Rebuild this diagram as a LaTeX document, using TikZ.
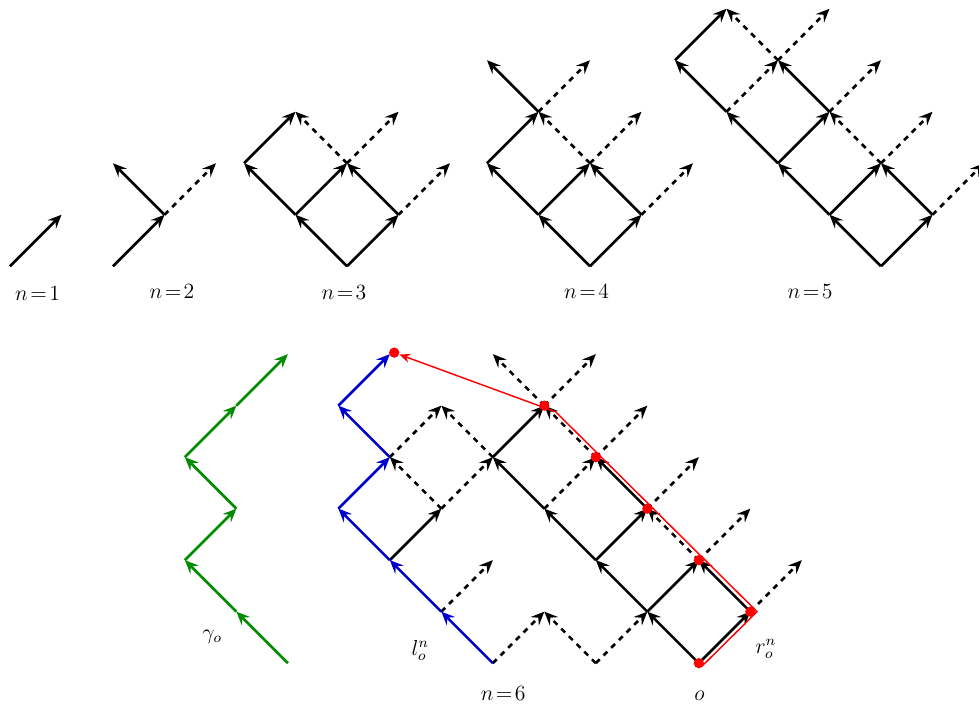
\documentclass[tikz,border=0pt]{standalone}
\usetikzlibrary{arrows.meta}
\definecolor{grn}{rgb}{0,0.55,0}
\definecolor{blu}{rgb}{0,0,0.8}
\begin{document}
\begin{tikzpicture}
    [arr/.style={-{Stealth[length=7.5pt,width=6.5pt,inset=2.8pt]},line width=1.4pt},
     dsh/.style={arr,dashed},
     dot/.style={circle,fill=red,inner sep=0pt,minimum size=0.2cm},
     lab/.style={font=\fontsize{11.6}{14}\selectfont,inner sep=0pt,anchor=base}]
    \useasboundingbox (0,0) rectangle (19.01,13.79);
    \foreach \d/\x/\y in {n1/0.194/8.62, n2/2.194/8.62, n3/4.738/8.62,
        n4/9.456/8.62, n5/13.107/8.62, n6/5.57/0.913, g/3.59/0.913}
      \foreach \c in {0,...,10}
        \foreach \r in {0,...,6}
          \coordinate (\d-\c-\r) at (\x+\c,\y+\r);
    % n=1 to n=5
    \path (n1-0-0) edge [arr] (n1-1-1);
    \path (n2-0-0) edge [arr] (n2-1-1);
    \path (n2-1-1) edge [arr] (n2-0-2) edge [dsh] (n2-2-2);
    \path (n3-2-0) edge [arr] (n3-1-1) edge [arr] (n3-3-1);
    \path (n3-1-1) edge [arr] (n3-0-2) edge [arr] (n3-2-2);
    \path (n3-3-1) edge [arr] (n3-2-2) edge [dsh] (n3-4-2);
    \path (n3-0-2) edge [arr] (n3-1-3);
    \path (n3-2-2) edge [dsh] (n3-1-3) edge [dsh] (n3-3-3);
    \path (n4-2-0) edge [arr] (n4-1-1) edge [arr] (n4-3-1);
    \path (n4-1-1) edge [arr] (n4-0-2) edge [arr] (n4-2-2);
    \path (n4-3-1) edge [arr] (n4-2-2) edge [dsh] (n4-4-2);
    \path (n4-0-2) edge [arr] (n4-1-3);
    \path (n4-2-2) edge [dsh] (n4-1-3) edge [dsh] (n4-3-3);
    \path (n4-1-3) edge [arr] (n4-0-4) edge [dsh] (n4-2-4);
    \path (n5-4-0) edge [arr] (n5-3-1) edge [arr] (n5-5-1);
    \path (n5-5-1) edge [arr] (n5-4-2) edge [dsh] (n5-6-2);
    \path (n5-3-1) edge [arr] (n5-2-2) edge [arr] (n5-4-2);
    \path (n5-4-2) edge [dsh] (n5-3-3) edge [dsh] (n5-5-3);
    \path (n5-2-2) edge [arr] (n5-1-3) edge [arr] (n5-3-3);
    \path (n5-3-3) edge [arr] (n5-2-4) edge [dsh] (n5-4-4);
    \path (n5-1-3) edge [arr] (n5-0-4) edge [dsh] (n5-2-4);
    \path (n5-2-4) edge [dsh] (n5-1-5) edge [dsh] (n5-3-5);
    \path (n5-0-4) edge [arr] (n5-1-5);
    % n=6
    \path (n6-8-0) edge [arr] (n6-7-1) edge [arr] (n6-9-1);
    \path (n6-7-1) edge [arr] (n6-6-2) edge [arr] (n6-8-2);
    \path (n6-9-1) edge [arr] (n6-8-2) edge [dsh] (n6-10-2);
    \path (n6-6-2) edge [arr] (n6-5-3) edge [arr] (n6-7-3);
    \path (n6-8-2) edge [dsh] (n6-7-3) edge [dsh] (n6-9-3);
    \path (n6-5-3) edge [arr] (n6-4-4) edge [dsh] (n6-6-4);
    \path (n6-7-3) edge [arr] (n6-6-4) edge [dsh] (n6-8-4);
    \path (n6-4-4) edge [arr] (n6-5-5) edge [dsh] (n6-3-5);
    \path (n6-6-4) edge [dsh] (n6-5-5) edge [dsh] (n6-7-5);
    \path (n6-5-5) edge [dsh] (n6-4-6) edge [dsh] (n6-6-6);
    \path (n6-6-0) edge [dsh] (n6-5-1) edge [dsh] (n6-7-1);
    \path (n6-4-0) edge [dsh] (n6-5-1);
    \path (n6-3-1) edge [dsh] (n6-4-2);
    \path (n6-2-2) edge [arr] (n6-3-3);
    \path (n6-3-3) edge [dsh] (n6-2-4) edge [dsh] (n6-4-4);
    \path (n6-2-4) edge [dsh] (n6-3-5);
    \foreach \a/\b in {4-0/3-1, 3-1/2-2, 2-2/1-3, 1-3/2-4, 2-4/1-5, 1-5/2-6}
      \draw [arr,blu] (n6-\a) -- (n6-\b);
    \foreach \a/\b in {2-0/1-1, 1-1/0-2, 0-2/1-3, 1-3/0-4, 0-4/1-5, 1-5/2-6}
      \draw [arr,grn] (g-\a) -- (g-\b);
    % red path
    \node [dot] (rtop) at ([shift={(0.085,0.03)}]n6-2-6) {};
    \coordinate (q0) at ([shift={(0.06,-0.06)}]n6-8-0);
    \coordinate (q1) at ([xshift=0.13cm]n6-9-1);
    \coordinate (q2) at ([shift={(0.22,-0.12)}]n6-5-5);
    \draw [-{Stealth[length=6pt,width=5pt,inset=2pt]},red,line width=0.8pt]
      (q0) -- (q1) -- (q2) -- (rtop);
    \foreach \p in {8-0,9-1,8-2,7-3,6-4,5-5}
      \node [dot] (r\p) at (n6-\p) {};
    \node [lab] (t1) at (0.73,7.96) {$n\!=\!1$};
    \node [lab] (t2) at (3.34,8.0) {$n\!=\!2$};
    \node [lab] (t3) at (6.68,7.98) {$n\!=\!3$};
    \node [lab] (t4) at (11.39,8.0) {$n\!=\!4$};
    \node [lab] (t5) at (15.73,8.0) {$n\!=\!5$};
    \node [lab] (t6) at (9.77,0.19) {$n\!=\!6$};
    \node [lab] (to) at (13.58,0.19) {$o$};
    \node [lab] (tr) at (14.87,1.11) {$r_o^n$};
    \node [lab] (tl) at (8.16,1.07) {$l_o^n$};
    \node [lab] (tg) at (4.12,1.37) {$\gamma_o$};
  \end{tikzpicture}
\end{document}
